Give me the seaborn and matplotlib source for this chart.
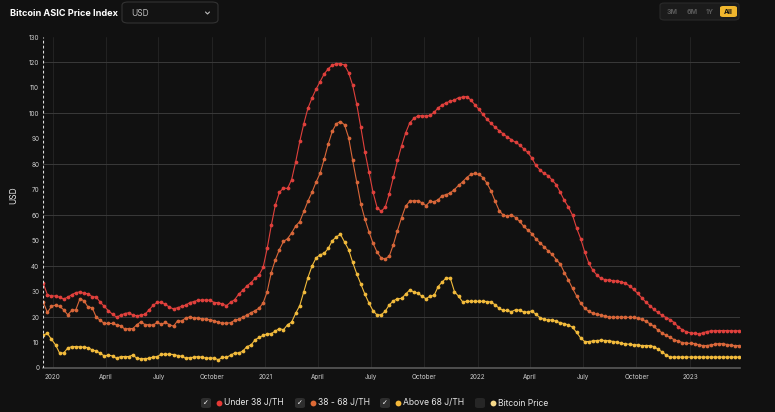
import numpy as np
import pandas as pd
import seaborn as sns
import matplotlib.pyplot as plt
import matplotlib.dates as mdates
from matplotlib.patches import FancyBboxPatch
from matplotlib.lines import Line2D

# weekly index values (USD per TH)
start_date = "2019-12-16"

red_vals = [
    33.2, 28.8, 28.3, 28.3, 27.8, 27.1, 27.8, 28.8, 29.6, 29.9,
    29.3, 29.2, 28.0, 27.9, 25.8, 24.2, 22.5, 21.1, 20.0, 20.7,
    21.4, 21.7, 20.8, 20.5, 20.8, 21.1, 22.9, 24.6, 25.8, 25.8,
    25.0, 23.9, 23.2, 23.7, 24.2, 24.7, 25.7, 26.1, 26.6, 26.7,
    26.7, 26.6, 25.7, 25.7, 25.1, 24.5, 25.8, 26.8, 29.0, 30.5,
    32.2, 33.5, 35.2, 36.5, 39.5, 47.0, 56.0, 64.0, 69.0, 70.7,
    70.5, 74.0, 81.0, 89.0, 96.0, 102.0, 106.0, 109.5, 112.5, 115.5,
    117.5, 119.0, 119.5, 119.5, 119.0, 116.0, 111.0, 103.5, 94.5, 85.0,
    77.0, 69.0, 63.0, 61.5, 63.2, 68.5, 75.0, 81.5, 87.2, 92.3,
    96.2, 98.0, 99.0, 99.1, 98.9, 99.2, 100.4, 102.2, 103.3, 104.2,
    104.8, 105.2, 106.2, 106.4, 106.6, 105.3, 103.4, 101.6, 99.6, 97.7,
    96.1, 94.5, 93.2, 91.9, 90.7, 89.7, 88.6, 87.7, 86.1, 84.7,
    82.5, 79.6, 77.8, 76.4, 75.6, 73.8, 72.0, 69.0, 65.8, 63.2,
    60.0, 55.0, 50.8, 45.6, 41.2, 38.4, 36.5, 35.2, 34.7, 34.5,
    34.3, 34.1, 33.9, 33.2, 32.3, 30.9, 29.3, 27.6, 25.9, 24.5,
    23.0, 21.8, 20.7, 19.8, 19.0, 17.8, 16.1, 15.0, 14.2, 13.8,
    13.6, 13.4, 13.8, 14.3, 14.6, 14.6, 14.7, 14.7, 14.7, 14.6,
    14.6, 14.6]

orange_vals = [
    25.8, 21.8, 24.2, 24.7, 24.2, 22.9, 20.9, 22.6, 22.9, 27.2,
    26.4, 23.9, 23.7, 20.0, 18.7, 17.5, 17.5, 17.5, 17.0, 16.6,
    15.3, 15.5, 15.5, 17.0, 18.2, 17.0, 17.0, 16.8, 18.0, 17.1,
    17.9, 17.0, 16.4, 18.6, 18.4, 19.7, 20.0, 19.7, 19.6, 19.3,
    19.2, 18.9, 18.6, 17.9, 17.6, 17.6, 17.8, 18.7, 19.1, 20.0,
    20.7, 21.7, 22.5, 23.5, 25.5, 30.0, 37.5, 42.5, 46.5, 49.7,
    50.8, 53.0, 55.8, 57.5, 61.5, 65.5, 69.0, 73.0, 76.5, 82.0,
    88.0, 93.0, 96.0, 96.8, 95.5, 90.5, 81.5, 73.0, 64.5, 58.5,
    53.5, 49.0, 45.5, 43.2, 42.8, 44.0, 48.5, 54.0, 59.0, 63.5,
    65.5, 65.7, 65.7, 64.9, 63.8, 65.4, 65.3, 66.1, 67.7, 68.1,
    68.8, 70.1, 71.7, 73.1, 74.8, 76.0, 76.4, 76.0, 74.8, 72.5,
    69.5, 65.5, 61.8, 60.0, 59.7, 60.1, 59.1, 57.6, 55.7, 54.2,
    52.8, 50.7, 49.2, 47.6, 46.0, 44.6, 42.6, 40.8, 37.5, 34.5,
    31.3, 28.3, 25.5, 23.5, 22.2, 21.5, 21.1, 20.8, 20.3, 20.0,
    19.9, 19.9, 20.0, 19.9, 19.9, 19.9, 19.6, 19.1, 18.3, 17.4,
    16.3, 14.9, 13.8, 12.8, 12.0, 11.1, 10.5, 10.0, 9.7, 9.7,
    9.6, 9.1, 8.8, 8.8, 9.1, 9.3, 9.6, 9.5, 9.2, 8.9,
    8.8, 8.8]

yellow_vals = [
    12.9, 13.6, 11.3, 9.1, 5.9, 5.9, 7.8, 8.4, 8.4, 8.3,
    8.2, 8.0, 7.1, 6.7, 5.8, 4.7, 5.1, 4.7, 3.8, 4.5,
    4.5, 4.5, 5.1, 3.8, 3.6, 3.7, 3.8, 4.3, 4.5, 5.4,
    5.4, 5.4, 5.3, 4.9, 4.6, 3.8, 4.1, 4.2, 4.5, 4.2,
    3.9, 3.9, 3.9, 3.2, 4.2, 4.2, 5.0, 5.9, 5.9, 6.6,
    8.4, 9.0, 11.0, 12.0, 12.8, 13.3, 13.5, 14.5, 15.5, 15.0,
    17.0, 18.0, 21.5, 24.5, 30.0, 35.5, 40.0, 43.2, 44.5, 45.0,
    47.0, 50.0, 51.5, 52.5, 49.5, 46.5, 41.5, 37.0, 33.0, 29.0,
    25.5, 22.5, 20.8, 20.9, 22.3, 24.8, 26.4, 27.2, 27.3, 29.0,
    30.6, 29.9, 29.4, 28.2, 27.2, 28.2, 28.5, 32.0, 33.8, 35.4,
    35.2, 30.0, 28.2, 26.0, 26.2, 26.2, 26.2, 26.2, 26.2, 26.1,
    25.9, 24.8, 23.4, 22.6, 22.6, 22.1, 22.9, 22.7, 22.0, 22.0,
    22.4, 21.1, 19.8, 19.1, 18.8, 18.9, 18.3, 17.8, 17.4, 16.9,
    16.0, 14.0, 11.8, 10.4, 10.4, 10.6, 10.8, 10.9, 10.8, 10.7,
    10.4, 10.1, 9.7, 9.5, 9.3, 9.1, 9.1, 8.8, 8.8, 8.8,
    8.4, 7.4, 6.3, 5.1, 4.3, 4.3, 4.3, 4.3, 4.3, 4.3,
    4.3, 4.3, 4.3, 4.3, 4.3, 4.3, 4.3, 4.3, 4.3, 4.3,
    4.3, 4.3]

series_names = ["Under 38 J/TH", "38 - 68 J/TH", "Above 68 J/TH"]
series_colors = ["#e0403c", "#d9673a", "#f2bb3c"]
legend_labels = ["Under 38 J/TH", "38 - 68 J/TH", "Above 68 J/TH", "Bitcoin Price"]
legend_colors = ["#e53935", "#dd6a35", "#f4b83a", "#f6d98a"]
legend_checked = [True, True, True, False]

dates = pd.date_range(start_date, periods=len(red_vals), freq="7D")

frames = []
for name, vals in zip(series_names, [red_vals, orange_vals, yellow_vals]):
    frames.append(pd.DataFrame({"date": dates, "value": vals, "series": name}))
df = pd.concat(frames, ignore_index=True)

BG = "#111111"
W, H = 775, 412

sns.set_theme(style="dark")
plt.rcParams['font.family'] = ['Inter', 'DejaVu Sans']

fig = plt.figure(figsize=(W / 100, H / 100), dpi=100, facecolor=BG)
ax = fig.add_axes([43.3 / W, 1 - 368 / H, (740 - 43.3) / W, (368 - 37) / H])
ax.set_facecolor(BG)

# quarter grid lines and faint horizontal lines every 20
quarters = pd.date_range("2020-01-01", "2023-01-01", freq="QS")
for q in quarters:
    ax.axvline(q, color="#262626", lw=0.6, zorder=0)
for yv in range(20, 121, 20):
    ax.axhline(yv, color="#3a3a3a", lw=0.7, zorder=0)

sns.lineplot(data=df, x="date", y="value", hue="series", hue_order=series_names,
             palette=series_colors, marker="o", markersize=2.7, markeredgewidth=0,
             linewidth=0.8, legend=False, ax=ax, zorder=3)

ax.axvline(dates[0], color="#dddddd", lw=0.8, ls=(0, (2.5, 2)), zorder=4)

ax.set_xlim(dates[0], dates[-1] + pd.Timedelta(days=1))
ax.set_ylim(0, 130)
ax.set_yticks(range(0, 131, 10))
ax.set_xticks(quarters)
ax.set_xticklabels([str(q.year) if q.month == 1 else q.strftime("%B") for q in quarters])
ax.tick_params(axis="both", colors="#cfcfcf", labelsize=4.6, length=0, pad=3)
ax.tick_params(axis="x", length=2, color="#555555", pad=2)
ax.set_xlabel("")
ax.set_ylabel("")
for s in ["top", "right", "left"]:
    ax.spines[s].set_visible(False)
ax.spines["bottom"].set_color("#5a5a5a")
ax.spines["bottom"].set_linewidth(1.2)
ax.grid(False)

fig.text(14 / W, 1 - 195 / H, "USD", rotation=90, color="#e6e6e6", fontsize=6,
         ha="center", va="center")

# header
fig.text(10 / W, 1 - 13 / H, "Bitcoin ASIC Price Index", color="white", fontsize=6.6,
         fontweight="bold", va="center", ha="left")
fig.patches.append(FancyBboxPatch((122 / W, 1 - 23 / H), 96 / W, 21 / H,
                                  boxstyle="round,pad=0,rounding_size=0.008",
                                  transform=fig.transFigure, fc="#131313", ec="#333333", lw=0.8))
fig.text(131 / W, 1 - 13 / H, "USD", color="#bdbdbd", fontsize=6, va="center")
fig.add_artist(Line2D([205.5 / W, 207.5 / W, 209.5 / W], [1 - 12 / H, 1 - 14 / H, 1 - 12 / H],
                      transform=fig.transFigure, color="#bdbdbd", lw=0.8))

fig.patches.append(FancyBboxPatch((660 / W, 1 - 20 / H), 79 / W, 17 / H,
                                  boxstyle="round,pad=0,rounding_size=0.006",
                                  transform=fig.transFigure, fc="#1b1b1b", ec="#2a2a2a", lw=0.8))
for lbl, x in zip(["3M", "6M", "1Y"], [672, 692, 710]):
    fig.text(x / W, 1 - 11.5 / H, lbl, color="#5a5a5a", fontsize=5, fontweight="bold",
             ha="center", va="center")
fig.patches.append(FancyBboxPatch((720 / W, 1 - 17 / H), 17 / W, 11 / H,
                                  boxstyle="round,pad=0,rounding_size=0.004",
                                  transform=fig.transFigure, fc="#f0b62d", ec="none"))
fig.text(728.5 / W, 1 - 11.5 / H, "All", color="#111111", fontsize=5, fontweight="bold",
         ha="center", va="center")

# legend
box_x = [206, 300, 385, 480]
ly = 403
for lbl, col, chk, bx in zip(legend_labels, legend_colors, legend_checked, box_x):
    fig.patches.append(FancyBboxPatch(((bx - 5) / W, 1 - (ly + 5) / H), 10 / W, 10 / H,
                                      boxstyle="round,pad=0,rounding_size=0.004",
                                      transform=fig.transFigure,
                                      fc="#2e2e2e" if chk else "#262626", ec="none"))
    if chk:
        fig.text(bx / W, 1 - ly / H, "\u2713", color="white", fontsize=5,
                 ha="center", va="center", family="DejaVu Sans")
    fig.add_artist(Line2D([(bx + 13) / W], [1 - ly / H], marker="o", ms=4.2, color=col,
                          mec="none", transform=fig.transFigure))
    fig.text((bx + 18) / W, 1 - ly / H, lbl, color="#e6e6e6", fontsize=6.2,
             ha="left", va="center")

fig.savefig("out.png", dpi=100, facecolor=BG)
